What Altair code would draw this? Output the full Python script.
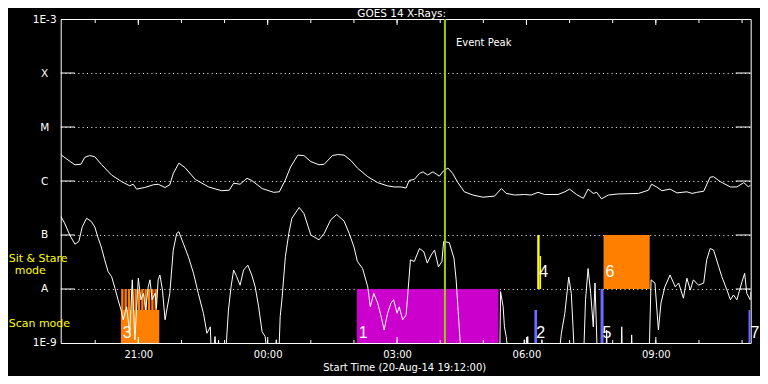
import altair as alt
import numpy as np
import pandas as pd

START = pd.Timestamp("2014-08-20 19:12:00")

# GOES 14 long channel (1-8 A): hours after start time, log10 flux (W/m^2)
long_hours = [0.00, 0.17, 0.33, 0.47, 0.56, 0.67, 0.79, 0.94, 1.18, 1.41, 1.60, 1.68, 1.76, 1.95,
              2.15, 2.26, 2.42, 2.53, 2.61, 2.74, 2.88, 3.12, 3.43, 3.73, 3.91, 4.01, 4.16, 4.32,
              4.43, 4.67, 4.94, 5.07, 5.21, 5.33, 5.50, 5.64, 5.80, 5.99, 6.11, 6.30, 6.42, 6.57,
              6.73, 6.88, 7.12, 7.35, 7.58, 7.73, 7.89, 8.01, 8.08, 8.20, 8.32, 8.40, 8.51, 8.63,
              8.78, 8.88, 8.98, 9.09, 9.21, 9.36, 9.56, 9.79, 10.06, 10.22, 10.33, 10.53, 10.76,
              10.91, 11.07, 11.22, 11.53, 11.69, 11.80, 11.96, 12.12, 12.23, 12.35, 12.43, 12.54,
              12.70, 12.93, 13.40, 13.63, 13.70, 13.82, 13.94, 14.13, 14.29, 14.52, 14.64, 14.75,
              14.91, 15.06, 15.14, 15.29, 15.53, 15.68, 15.84, 15.95, 16.00]
long_logflux = [-5.51, -5.61, -5.70, -5.69, -5.56, -5.53, -5.55, -5.69, -5.89, -6.01, -6.09, -6.06,
                -6.15, -6.12, -6.07, -6.06, -6.12, -6.07, -5.86, -5.67, -5.75, -5.97, -6.11, -6.18,
                -6.17, -6.04, -6.06, -5.95, -5.99, -6.14, -6.21, -6.20, -5.98, -5.74, -5.52, -5.53,
                -5.64, -5.70, -5.69, -5.53, -5.51, -5.52, -5.62, -5.76, -5.92, -6.03, -6.09, -6.11,
                -6.11, -6.13, -5.99, -5.97, -5.86, -5.83, -5.89, -5.83, -5.91, -5.81, -5.76, -5.86,
                -6.03, -6.20, -6.26, -6.30, -6.28, -6.14, -6.23, -6.26, -6.25, -6.26, -6.21, -6.25,
                -6.25, -6.20, -6.15, -6.25, -6.32, -6.15, -6.23, -6.21, -6.33, -6.26, -6.24, -6.23,
                -6.17, -6.06, -6.11, -6.18, -6.15, -6.22, -6.20, -6.23, -6.21, -6.19, -5.93, -5.92,
                -6.01, -6.11, -6.11, -6.03, -6.11, -6.07]

# GOES 14 short channel (0.5-4 A); values below 1E-9 run off the bottom of the plot
short_hours = [0.00, 0.09, 0.21, 0.33, 0.42, 0.50, 0.60, 0.71, 0.79, 0.87, 0.94, 1.02, 1.10, 1.18,
               1.26, 1.33, 1.40, 1.45, 1.53, 1.60, 1.66, 1.72, 1.80, 1.86, 1.92, 1.97, 2.03, 2.07,
               2.12, 2.19, 2.22, 2.26, 2.30, 2.36, 2.42, 2.46, 2.53, 2.61, 2.69, 2.74, 2.84, 2.96,
               3.08, 3.19, 3.31, 3.39, 3.47, 3.50, 3.58, 3.62, 3.66, 3.70, 3.81, 3.89, 3.95, 4.01,
               4.08, 4.16, 4.24, 4.34, 4.43, 4.51, 4.59, 4.67, 4.74, 4.82, 4.94, 5.00, 5.05, 5.09,
               5.13, 5.21, 5.29, 5.36, 5.53, 5.64, 5.80, 5.99, 6.11, 6.26, 6.40, 6.57, 6.69, 6.80,
               6.88, 7.00, 7.12, 7.18, 7.26, 7.35, 7.43, 7.50, 7.58, 7.66, 7.72, 7.80, 7.85, 7.93,
               8.01, 8.05, 8.11, 8.20, 8.32, 8.42, 8.50, 8.59, 8.67, 8.76, 8.84, 8.88, 9.01, 9.12,
               9.17, 9.21, 9.25, 9.30, 10.18, 10.20, 10.26, 10.29, 10.33, 10.41, 10.73, 10.75,
               10.77, 10.81, 10.83, 10.85, 11.14, 11.16, 11.18, 11.53, 11.61, 11.69, 11.78, 11.84,
               11.88, 11.92, 12.12, 12.17, 12.23, 12.29, 12.35, 12.39, 12.45, 12.64, 12.66, 12.68,
               12.99, 13.01, 13.03, 13.22, 13.24, 13.26, 13.64, 13.69, 13.78, 13.86, 13.92, 14.01,
               14.13, 14.25, 14.33, 14.44, 14.52, 14.60, 14.67, 14.79, 14.91, 14.98, 15.06, 15.14,
               15.26, 15.33, 15.45, 15.53, 15.60, 15.68, 15.80, 15.86, 15.91, 15.99, 16.00]
short_logflux = [-6.65, -6.78, -7.00, -7.17, -7.12, -6.85, -6.69, -6.75, -6.85, -7.06, -7.22, -7.46,
                 -7.68, -7.77, -7.99, -8.20, -8.39, -8.57, -8.33, -8.82, -7.83, -8.94, -7.80, -8.20,
                 -8.08, -8.39, -7.96, -7.83, -8.20, -8.08, -8.36, -7.83, -7.74, -8.02, -8.57, -8.39,
                 -8.08, -7.28, -6.97, -6.94, -7.15, -7.40, -7.71, -8.08, -8.45, -8.82, -8.70, -9.40,
                 -8.88, -9.40, -8.95, -9.40, -9.40, -8.39, -7.96, -7.65, -7.77, -7.93, -7.65, -7.56,
                 -7.74, -7.96, -8.33, -8.79, -8.88, -9.40, -9.40, -8.94, -9.40, -8.51, -8.20, -7.40,
                 -6.97, -6.69, -6.49, -6.60, -7.00, -7.09, -6.97, -6.72, -6.62, -6.74, -6.97, -7.22,
                 -7.49, -7.62, -7.96, -8.33, -8.08, -8.26, -8.51, -8.76, -8.45, -8.26, -8.20, -8.45,
                 -8.33, -8.57, -8.48, -8.08, -7.46, -7.49, -7.25, -7.31, -7.52, -7.37, -7.28, -7.59,
                 -7.49, -7.12, -7.14, -7.43, -7.83, -8.33, -8.82, -9.40, -9.40, -8.05, -8.33, -8.70,
                 -8.88, -9.40, -9.40, -8.94, -9.40, -9.40, -8.88, -9.40, -9.40, -8.94, -9.40, -9.40,
                 -8.82, -8.45, -7.78, -8.08, -8.70, -9.40, -9.40, -8.20, -7.62, -8.08, -8.70, -7.89,
                 -9.40, -9.40, -8.76, -9.40, -9.40, -8.70, -9.40, -9.40, -8.85, -9.40, -9.40, -7.83,
                 -7.89, -8.76, -8.26, -7.96, -7.74, -7.96, -7.89, -8.17, -7.80, -8.02, -7.83, -7.93,
                 -7.89, -7.46, -7.25, -7.28, -7.59, -7.77, -8.02, -8.20, -8.11, -8.20, -7.86, -7.71,
                 -8.08, -8.20, -8.05]

# observation blocks (hours after start, log10 band limits, colour)
blk_start = [1.395, 1.402, 1.479, 1.556, 1.635, 1.712, 1.788, 1.867, 1.944, 2.021, 2.100, 2.177,
             6.867, 10.984, 11.050, 11.105, 12.519, 12.588, 15.950]
blk_end = [2.286, 1.456, 1.533, 1.610, 1.689, 1.766, 1.842, 1.921, 1.998, 2.075, 2.154, 2.231,
           10.153, 11.047, 11.105, 11.140, 12.588, 13.658, 16.000]
blk_low = [-9, -9, -9, -9, -9, -9, -9, -9, -9, -9, -9, -9, -9, -9, -8, -8, -9, -8, -9]
blk_high = [-8.39, -8, -8, -8, -8, -8, -8, -8, -8, -8, -8, -8, -8, -8.39, -7, -7.39, -8, -7, -8.39]
blk_color = ["#ff8000"] * 12 + ["#cc00cc", "#6b6bff", "#ffff00", "#ffff00", "#6b6bff",
                                "#ff8000", "#6b6bff"]

num_labels = ["1", "2", "3", "4", "5", "6", "7"]
num_hours = [6.867, 10.984, 1.395, 11.050, 12.519, 12.588, 15.950]
num_logflux = [-8.81, -8.81, -8.81, -7.69, -8.81, -7.69, -8.81]

peak_hours = [8.91]

level_flux = [1e-3, 1e-4, 1e-5, 1e-6, 1e-7, 1e-8, 1e-9]
inner_levels = [1e-4, 1e-5, 1e-6, 1e-7, 1e-8]

hour_ticks = [0.8, 1.8, 2.8, 3.8, 4.8, 5.8, 6.8, 7.8, 8.8, 9.8, 10.8, 11.8, 12.8, 13.8, 14.8, 15.8]
major_ticks = [1.8, 4.8, 7.8, 10.8, 13.8]

mode_text = ["Sit & Stare", "mode", "Scan mode"]
mode_logflux = [-7.44, -7.67, -8.64]
mode_dx = [-52, -46, -52]


def ts(hours):
    t = START + pd.to_timedelta(np.asarray(hours, dtype=float), unit="h")
    return [x.strftime("%Y-%m-%dT%H:%M:%S") for x in t]


W, H = 690, 324
FONT = "DejaVu Sans"

xs = alt.Scale(domain=[alt.DateTime(year=2014, month=8, date=20, hours=19, minutes=12),
                       alt.DateTime(year=2014, month=8, date=21, hours=11, minutes=12)])
ys = alt.Scale(type="log", domain=[1e-9, 1e-3], nice=False)

label_expr = ("datum.value >= 0.0009 ? '1E-3' : datum.value >= 0.00009 ? 'X' : "
              "datum.value >= 0.000009 ? 'M' : datum.value >= 0.0000009 ? 'C' : "
              "datum.value >= 0.00000009 ? 'B' : datum.value >= 0.000000009 ? 'A' : '1E-9'")

XAX = alt.Axis(
    values=[alt.DateTime(year=2014, month=8, date=20, hours=21),
            alt.DateTime(year=2014, month=8, date=21, hours=0),
            alt.DateTime(year=2014, month=8, date=21, hours=3),
            alt.DateTime(year=2014, month=8, date=21, hours=6),
            alt.DateTime(year=2014, month=8, date=21, hours=9)],
    format="%H:%M", title=None, domain=False, ticks=False, grid=False,
    labelColor="white", labelFont=FONT, labelFontSize=10, labelPadding=7)
YAX = alt.Axis(
    values=level_flux, labelExpr=label_expr, title=None, domain=False, ticks=False,
    grid=True, gridColor="white", gridDash=[1, 3.3], gridOpacity=1, gridWidth=1,
    labelAlign="center", labelBaseline="middle", labelPadding=16.5,
    labelColor="white", labelFont=FONT, labelFontSize=10.5)


def X(field):
    return alt.X(field, scale=xs, axis=XAX)


def Y(field):
    return alt.Y(field, scale=ys, axis=YAX)


curves = pd.concat([
    pd.DataFrame({"series": "long", "t": ts(long_hours), "flux": 10.0 ** np.array(long_logflux)}),
    pd.DataFrame({"series": "short", "t": ts(short_hours), "flux": 10.0 ** np.array(short_logflux)}),
])
blocks = pd.DataFrame({"t": ts(blk_start), "t1": ts(blk_end),
                       "flux": 10.0 ** np.array(blk_low, dtype=float),
                       "hi": 10.0 ** np.array(blk_high, dtype=float), "c": blk_color})
nums = pd.DataFrame({"lab": num_labels, "t": ts(num_hours), "flux": 10.0 ** np.array(num_logflux)})
peak = pd.DataFrame({"t": ts(peak_hours), "lab": ["Event Peak"]})
levels = pd.DataFrame({"flux": inner_levels})
ticks_all = pd.DataFrame({"t": ts(hour_ticks)})
ticks_major = pd.DataFrame({"t": ts(major_ticks)})

rects = alt.Chart(blocks).mark_rect(clip=True).encode(
    x=X("t:T"), x2="t1:T", y=Y("flux:Q"), y2="hi:Q",
    color=alt.Color("c:N", scale=None))

numbers = alt.Chart(nums).mark_text(
    color="white", font="Liberation Sans Narrow, Liberation Sans", fontSize=16,
    align="left", baseline="middle", dx=2).encode(
    x=X("t:T"), y=Y("flux:Q"), text="lab:N")

lines = alt.Chart(curves).mark_line(color="white", strokeWidth=1, clip=True).encode(
    x=X("t:T"), y=Y("flux:Q"), detail="series:N")

peak_rule = alt.Chart(peak).mark_rule(color="#9acd10", strokeWidth=2).encode(x=X("t:T"))
peak_text = alt.Chart(peak).mark_text(
    color="white", font=FONT, fontSize=10, align="left", baseline="middle", dx=11).encode(
    x=X("t:T"), y=alt.value(24), text="lab:N")

ytick_l = alt.Chart(levels).mark_rule(color="white", strokeWidth=1).encode(
    y=Y("flux:Q"), x=alt.value(0), x2=alt.value(14))
ytick_r = alt.Chart(levels).mark_rule(color="white", strokeWidth=1).encode(
    y=Y("flux:Q"), x=alt.value(W - 15), x2=alt.value(W))

xt_bot_min = alt.Chart(ticks_all).mark_rule(color="white").encode(
    x=X("t:T"), y=alt.value(H), y2=alt.value(H - 3))
xt_top_min = alt.Chart(ticks_all).mark_rule(color="white").encode(
    x=X("t:T"), y=alt.value(0), y2=alt.value(4))
xt_bot_maj = alt.Chart(ticks_major).mark_rule(color="white").encode(
    x=X("t:T"), y=alt.value(H), y2=alt.value(H - 6))
xt_top_maj = alt.Chart(ticks_major).mark_rule(color="white").encode(
    x=X("t:T"), y=alt.value(0), y2=alt.value(6))

mode_layers = []
for txt, lf, dx in zip(mode_text, mode_logflux, mode_dx):
    mode_layers.append(
        alt.Chart(pd.DataFrame({"lab": [txt], "flux": [10.0 ** lf]})).mark_text(
            color="#ffff00", font=FONT, fontSize=11, align="left", baseline="middle").encode(
            x=alt.value(dx), y=Y("flux:Q"), text="lab:N"))

title_txt = alt.Chart(pd.DataFrame({"lab": ["GOES 14 X-Rays:"]})).mark_text(
    color="white", font=FONT, fontSize=10.5, align="center", baseline="middle").encode(
    x=alt.value(341), y=alt.value(-5.5), text="lab:N")
xtitle_txt = alt.Chart(pd.DataFrame({"lab": ["Start Time (20-Aug-14 19:12:00)"]})).mark_text(
    color="white", font=FONT, fontSize=10, align="center", baseline="middle").encode(
    x=alt.value(344), y=alt.value(349), text="lab:N")

chart = alt.layer(
    rects, numbers, lines, peak_rule, peak_text, ytick_l, ytick_r,
    xt_bot_min, xt_top_min, xt_bot_maj, xt_top_maj, *mode_layers, title_txt, xtitle_txt,
).properties(
    width=W, height=H,
    autosize=alt.AutoSizeParams(type="none"),
    padding={"left": 52.7, "top": 11, "right": 9, "bottom": 33},
    background="black",
).configure_view(stroke="white", strokeWidth=1)

chart.save("out.html", embed_options={"renderer": "svg", "actions": False})
